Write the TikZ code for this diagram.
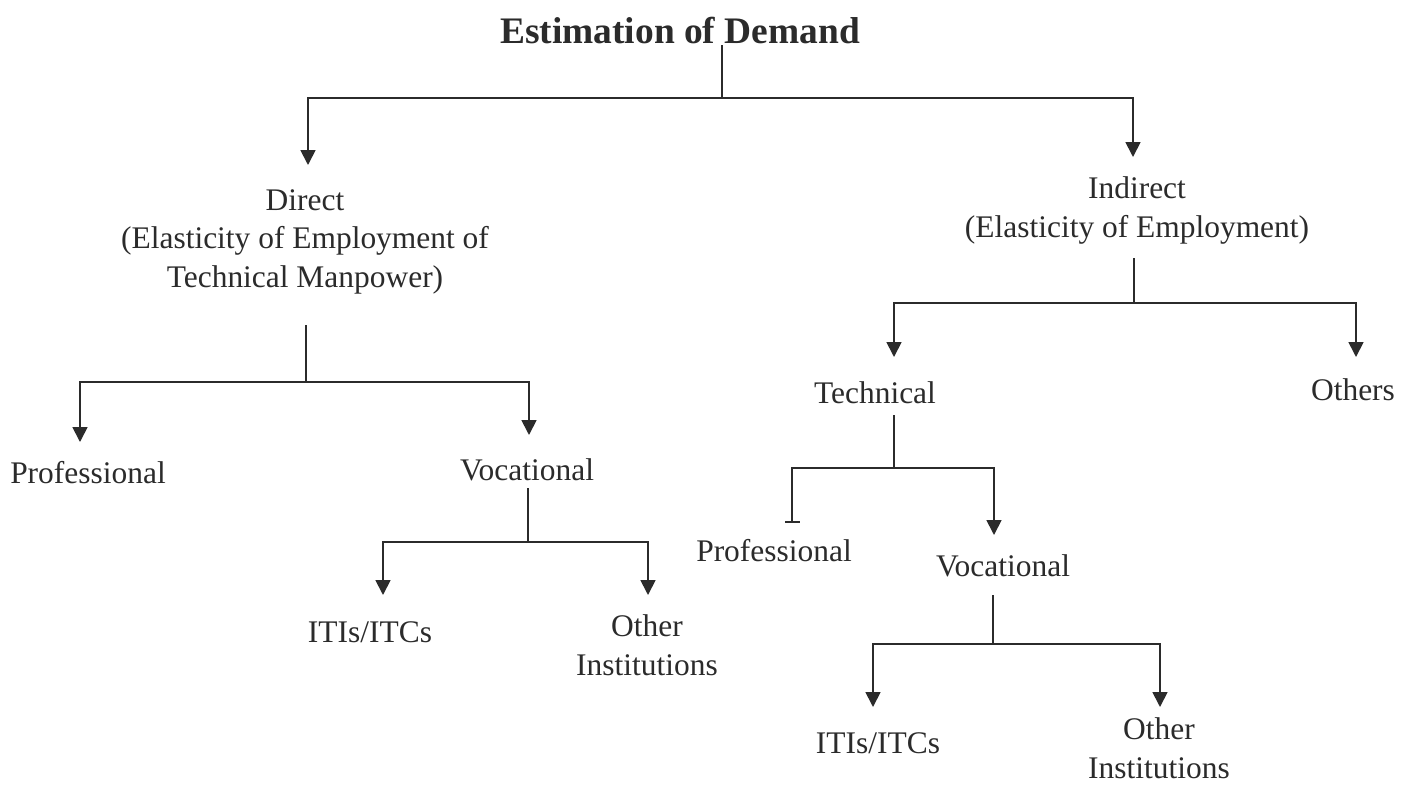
\documentclass[tikz,border=0pt]{standalone}
\usepackage{fontspec}
\setmainfont{Liberation Serif}
\usetikzlibrary{arrows.meta}
\definecolor{ink}{HTML}{2B2B2B}
\tikzset{
  lbl/.style={inner sep=0pt, anchor=base, text=ink, align=center,
    font=\fontsize{17.9}{21.8}\selectfont},
  heading/.style={lbl, font=\fontsize{21.3}{25}\selectfont\bfseries},
  link/.style={draw=ink, line width=1pt},
  tip/.style={link, -{Triangle[width=0.3cm,length=0.3cm]}},
  stub/.style={link, -{Bar[width=0.3cm]}},
}
\begin{document}
\begin{tikzpicture}[x=0.02cm,y=-0.02cm]
\useasboundingbox[fill=white] (0,0) rectangle (1407,785);
% labels (base = last line)
\node[heading] (title) at (680,43) {Estimation of Demand};
\node[lbl] (direct) at (305,287) {Direct\\(Elasticity of Employment of\\Technical Manpower)};
\node[lbl] (indirect) at (1137,237) {Indirect\\(Elasticity of Employment)};
\node[lbl] (profA) at (88,483) {Professional};
\node[lbl] (vocA) at (527,480) {Vocational};
\node[lbl] (itiA) at (370,642) {ITIs/ITCs};
\node[lbl] (othA) at (647,675) {Other\\Institutions};
\node[lbl] (tech) at (875,403) {Technical};
\node[lbl] (others) at (1353,400) {Others};
\node[lbl] (profB) at (774,561) {Professional};
\node[lbl] (vocB) at (1003,576) {Vocational};
\node[lbl] (itiB) at (878,753) {ITIs/ITCs};
\node[lbl] (othB) at (1159,778) {Other\\Institutions};
% stems, junctions and arrow ends
\coordinate (s0) at (722,45);    \coordinate (j0) at (722,98);
\coordinate (a1) at (308,165);   \coordinate (a2) at (1133,157);
\coordinate (s1) at (306,325);   \coordinate (j1) at (306,382);
\coordinate (a11) at (80,442);   \coordinate (a12) at (529,435);
\coordinate (s12) at (528,488);  \coordinate (j12) at (528,542);
\coordinate (a121) at (383,595); \coordinate (a122) at (648,595);
\coordinate (s2) at (1134,258);  \coordinate (j2) at (1134,303);
\coordinate (a21) at (894,357);  \coordinate (a22) at (1356,357);
\coordinate (s21) at (894,415);  \coordinate (j21) at (894,468);
\coordinate (a211) at (792,523); \coordinate (a212) at (994,535);
\coordinate (s212) at (993,595); \coordinate (j212) at (993,644);
\coordinate (a2121) at (873,707); \coordinate (a2122) at (1160,707);
% tree
\draw[link] (s0) -- (j0);
\draw[tip] (j0) -| (a1);
\draw[tip] (j0) -| (a2);
\draw[link] (s1) -- (j1);
\draw[tip] (j1) -| (a11);
\draw[tip] (j1) -| (a12);
\draw[link] (s12) -- (j12);
\draw[tip] (j12) -| (a121);
\draw[tip] (j12) -| (a122);
\draw[link] (s2) -- (j2);
\draw[tip] (j2) -| (a21);
\draw[tip] (j2) -| (a22);
\draw[link] (s21) -- (j21);
\draw[stub] (j21) -| (a211);
\draw[tip] (j21) -| (a212);
\draw[link] (s212) -- (j212);
\draw[tip] (j212) -| (a2121);
\draw[tip] (j212) -| (a2122);
\end{tikzpicture}
\end{document}
